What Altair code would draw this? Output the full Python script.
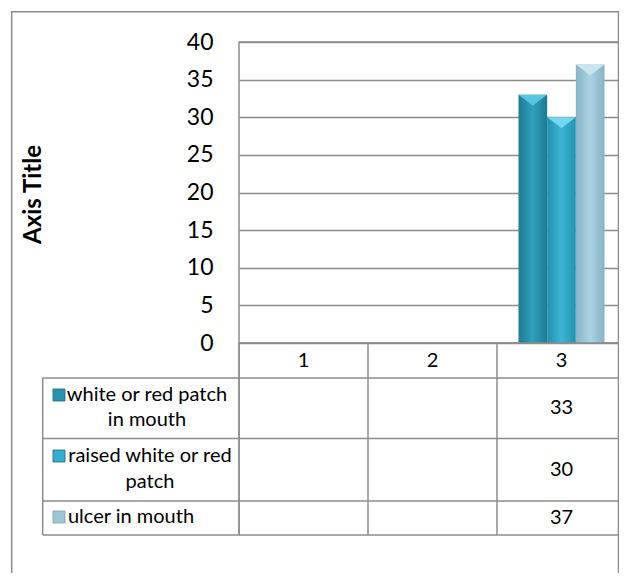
import altair as alt
import pandas as pd

# ---------------- data ----------------
categories = ["1", "2", "3"]
series = ["white or red patch in mouth", "raised white or red patch", "ulcer in mouth"]
series_lines = [["white or red patch", "in mouth"], ["raised white or red", "patch"], ["ulcer in mouth"]]
values_s1 = [None, None, 33]
values_s2 = [None, None, 30]
values_s3 = [None, None, 37]
y_ticks = [0, 5, 10, 15, 20, 25, 30, 35, 40]
y_title = "Axis Title"

all_values = [values_s1, values_s2, values_s3]
rows = []
for s, vals in zip(series, all_values):
    for c, v in zip(categories, vals):
        if v is not None:
            rows.append({"category": c, "series": s, "value": v, "label": str(v)})
df = pd.DataFrame(rows)

# ---------------- layout / style ----------------
FONT = "Lato"
GRID = "#8c8c8c"
LW = 1.5
W, H = 387, 301
OX, OY = 239, 42          # page position of plot origin
RIGHT_EDGE = 618.5        # visible right border (page)
def px(x): return x - OX
def py(y): return y - OY

bar_colors = [
    ["#1f7a92", "#2fa0bc", "#1f7a92"],
    ["#2591ad", "#3ab6d5", "#2591ad"],
    ["#86b3c6", "#acd3e3", "#86b3c6"],
]
cap_colors = ["#5cc6e0", "#74d6ef", "#cbe6f1"]
key_colors = ["#2a93ae", "#34add0", "#9fc6d6"]

table_left = 42.7
header_bottom = 378
row_bottoms = [438.5, 501, 535]
header_text_y = 361
value_text_y = [408, 469.5, 518]
label_line_y = [[395, 420], [456, 482], [517]]
label_center_x = [147, 150, 131]
key_x = 59
KEY = 12
TFS = 20

x_enc = alt.X("category:N", scale=alt.Scale(domain=categories, paddingInner=0, paddingOuter=0), axis=None)
xo_enc = alt.XOffset("series:N", scale=alt.Scale(domain=series, paddingInner=0, paddingOuter=0.75))
y_axis = alt.Axis(
    values=y_ticks, grid=True, gridColor=GRID, gridWidth=LW, domain=False, ticks=False,
    labelPadding=26, labelFont=FONT, labelFontSize=23, labelColor="#000000", labelOverlap=False,
    title=y_title, titleFont=FONT, titleFontSize=24, titleFontWeight="bold", titleColor="#000000",
    titleAngle=270, titleX=px(33), titleY=py(194), titleAlign="center", titleBaseline="middle",
)
y_enc = alt.Y("value:Q", scale=alt.Scale(domain=[0, 40]), axis=y_axis)

one = alt.Data(values=[{}])
layers = []

# outer chart border
layers.append(alt.Chart(one).mark_rect(fillOpacity=0, stroke=GRID, strokeWidth=LW).encode(
    x=alt.value(px(11.7)), x2=alt.value(px(RIGHT_EDGE)), y=alt.value(py(11.7)), y2=alt.value(py(700))))

# bars
for i, s in enumerate(series):
    grad = alt.LinearGradient(gradient="linear", x1=0, x2=1, y1=0, y2=0, stops=[
        alt.GradientStop(color=bar_colors[i][0], offset=0),
        alt.GradientStop(color=bar_colors[i][1], offset=0.5),
        alt.GradientStop(color=bar_colors[i][2], offset=1)])
    base = alt.Chart(df).transform_filter(alt.datum.series == s)
    layers.append(base.mark_bar(color=grad).encode(x=x_enc, xOffset=xo_enc, y=y_enc))
    layers.append(base.mark_point(shape="M-1,0L1,0L0,0.75Z", filled=True, size=28.67 ** 2,
                                  opacity=1, strokeWidth=0, color=cap_colors[i]).encode(
        x=x_enc, xOffset=xo_enc, y=y_enc))

# table horizontal lines
for yy in [header_bottom] + row_bottoms:
    layers.append(alt.Chart(one).mark_rule(color=GRID, strokeWidth=LW).encode(
        x=alt.value(px(table_left)), x2=alt.value(px(RIGHT_EDGE)), y=alt.value(py(yy))))
# table left edges
layers.append(alt.Chart(one).mark_rule(color=GRID, strokeWidth=LW).encode(
    x=alt.value(px(table_left)), y=alt.value(py(header_bottom)), y2=alt.value(py(row_bottoms[-1]))))
layers.append(alt.Chart(one).mark_rule(color=GRID, strokeWidth=LW).encode(
    x=alt.value(0), y=alt.value(H), y2=alt.value(py(row_bottoms[-1]))))
# column boundaries from category band scale
cat_df = pd.DataFrame({"category": categories})
layers.append(alt.Chart(cat_df).mark_rule(color=GRID, strokeWidth=LW).encode(
    x=alt.X("category:N", bandPosition=0), y=alt.value(H), y2=alt.value(py(row_bottoms[-1]))))
layers.append(alt.Chart(one).mark_rule(color=GRID, strokeWidth=LW).encode(
    x=alt.value(0), x2=alt.value(px(RIGHT_EDGE)), y=alt.value(H)))

# header text (categories)
layers.append(alt.Chart(cat_df).mark_text(font=FONT, fontSize=TFS, color="#000000", baseline="middle").encode(
    x=alt.X("category:N"), y=alt.value(py(header_text_y)), text="category:N"))

# values and row labels
for i, s in enumerate(series):
    layers.append(alt.Chart(df).transform_filter(alt.datum.series == s).mark_text(
        font=FONT, fontSize=TFS, color="#000000", baseline="middle").encode(
        x=alt.X("category:N"), y=alt.value(py(value_text_y[i])), text="label:N"))
    for j, line in enumerate(series_lines[i]):
        layers.append(alt.Chart(one).mark_text(font=FONT, fontSize=TFS, color="#000000",
                                               baseline="middle", align="center", text=line).encode(
            x=alt.value(px(label_center_x[i])), y=alt.value(py(label_line_y[i][j]))))
    layers.append(alt.Chart(one).mark_rect(color=key_colors[i], stroke="#1d6a80" if i < 2 else "#7d9eac",
                                           strokeWidth=0.8).encode(
        x=alt.value(px(key_x - KEY / 2)), x2=alt.value(px(key_x + KEY / 2)),
        y=alt.value(py(label_line_y[i][0] - KEY / 2)), y2=alt.value(py(label_line_y[i][0] + KEY / 2))))

chart = alt.layer(*layers).properties(
    width=W, height=H,
    autosize=alt.AutoSizeParams(type="none"),
    padding={"left": 231, "top": 34, "right": -7, "bottom": 230},
    background="white",
).configure_view(stroke=GRID, strokeWidth=LW).configure_axisY(labelOverlap=False)

chart.save("out.html", embed_options={"renderer": "svg", "actions": False})
